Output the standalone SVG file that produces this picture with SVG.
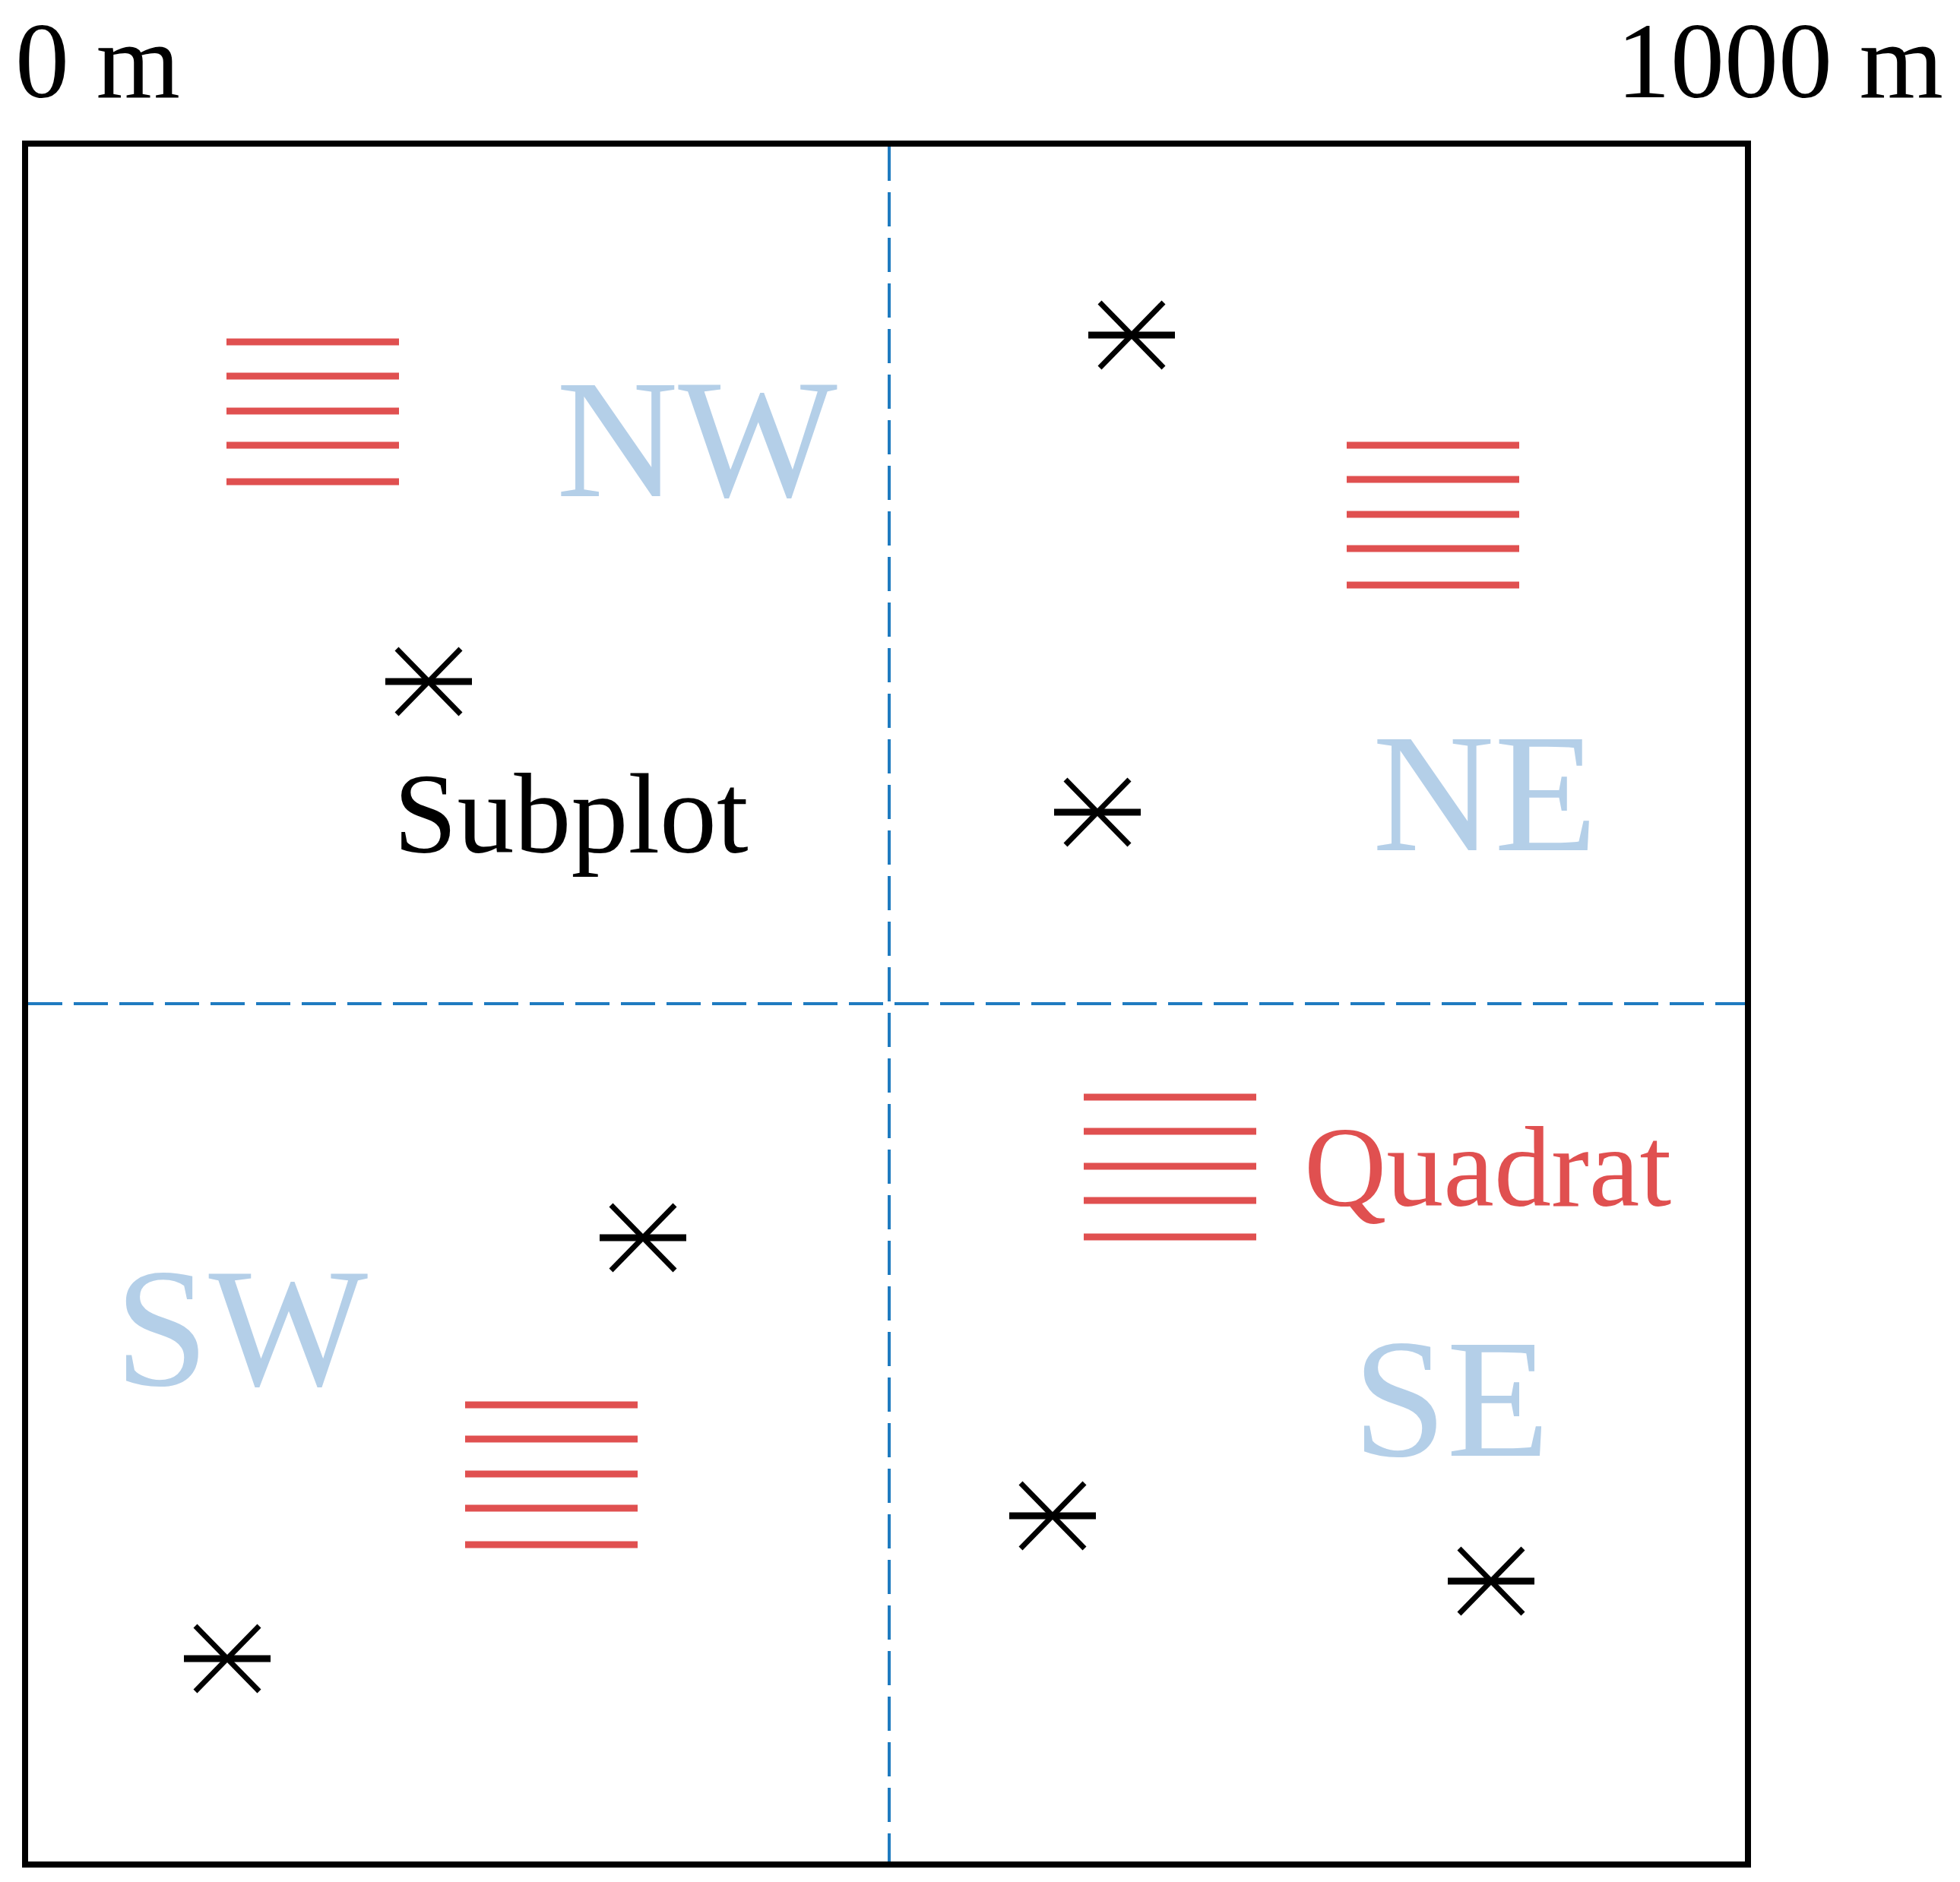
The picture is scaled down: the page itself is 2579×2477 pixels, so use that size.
<svg xmlns="http://www.w3.org/2000/svg" width="2579" height="2477" viewBox="0 0 2579 2477">
<style>
text{font-family:"Liberation Serif","Times New Roman",serif}
.q line{stroke:#e05050;stroke-width:9}
.dir{fill:#b4cfe8;font-size:222px}
.div{stroke:#1f7bc0;stroke-width:4;stroke-dasharray:45 15}
</style>
<defs>
<g id="ast" stroke="#000">
<line x1="-57" y1="0" x2="57" y2="0" stroke-width="9"/>
<line x1="-42" y1="-43" x2="42" y2="43" stroke-width="7"/>
<line x1="-42" y1="43" x2="42" y2="-43" stroke-width="7"/>
</g>
<g id="quad" class="q">
<line x1="0" y1="0" x2="227" y2="0"/>
<line x1="0" y1="45" x2="227" y2="45"/>
<line x1="0" y1="91" x2="227" y2="91"/>
<line x1="0" y1="136" x2="227" y2="136"/>
<line x1="0" y1="184" x2="227" y2="184"/>
</g>
</defs>
<rect width="2579" height="2477" fill="#fff"/>
<g id="frame">
<rect x="33" y="189" width="2267" height="2265" fill="none" stroke="#000" stroke-width="8"/>
</g>
<g id="connectors">
<line class="div" x1="1170" y1="193" x2="1170" y2="2450"/>
<line class="div" x1="37" y1="1321" x2="2296" y2="1321"/>
</g>
<g id="scale">
<text x="20" y="128" font-size="142">0 m</text>
<text x="2127" y="128" font-size="142">1000 m</text>
</g>
<g id="labels">
<text class="dir" x="732" y="653">NW</text>
<text class="dir" x="1806" y="1119">NE</text>
<text class="dir" x="151" y="1823">SW</text>
<text class="dir" x="1780" y="1916">SE</text>
</g>
<g id="quadrats">
<use href="#quad" x="298" y="450"/>
<use href="#quad" x="1772" y="586"/>
<use href="#quad" x="1426" y="1444"/>
<use href="#quad" x="612" y="1849"/>
<text x="1716" y="1587" font-size="150" fill="#e05050">Quadrat</text>
</g>
<g id="subplots">
<use href="#ast" x="564" y="897"/>
<use href="#ast" x="1489" y="441"/>
<use href="#ast" x="1444" y="1069"/>
<use href="#ast" x="846" y="1629"/>
<use href="#ast" x="299" y="2183"/>
<use href="#ast" x="1385" y="1995"/>
<use href="#ast" x="1962" y="2081"/>
<text x="518" y="1122" font-size="150">Subplot</text>
</g>
</svg>
